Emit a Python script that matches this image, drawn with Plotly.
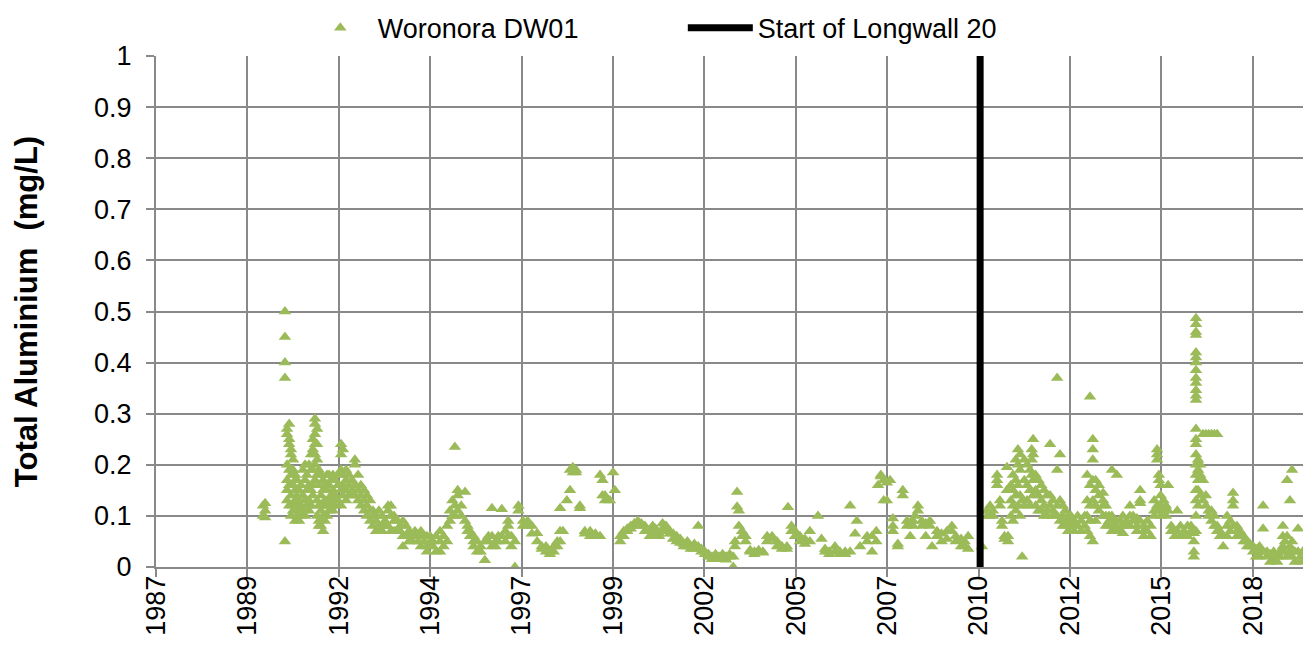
import plotly.graph_objects as go

# Woronora DW01 total aluminium
# each date (decimal year) carries the readings taken on that day (depth profile)
dates_89_95 = [1990.09, 1990.15, 1990.71, 1990.77, 1990.83, 1990.88, 1990.94, 1991.00, 1991.05,
               1991.11, 1991.16, 1991.22, 1991.28, 1991.33, 1991.39, 1991.45, 1991.50, 1991.56,
               1991.62, 1991.67, 1991.73, 1991.79, 1991.84, 1991.90, 1991.96, 1992.01, 1992.07,
               1992.13, 1992.21, 1992.30, 1992.35, 1992.44, 1992.52, 1992.61, 1992.69, 1992.78,
               1992.86, 1992.95, 1993.03, 1993.12, 1993.20, 1993.29, 1993.37, 1993.46, 1993.54,
               1993.63, 1993.71, 1993.80, 1993.88, 1993.97, 1994.05, 1994.14, 1994.22, 1994.31,
               1994.39, 1994.48, 1994.56, 1994.65, 1994.73, 1994.82, 1994.90, 1994.99]
al_89_95 = [[0.10, 0.12], [0.125, 0.11, 0.097], [0.50, 0.45, 0.40, 0.37, 0.05],
            [0.27, 0.26, 0.20, 0.17, 0.15, 0.13], [0.28, 0.25, 0.24, 0.19, 0.16, 0.12],
            [0.23, 0.22, 0.18, 0.14, 0.10], [0.21, 0.19, 0.16, 0.12, 0.11],
            [0.18, 0.17, 0.15, 0.13, 0.09], [0.17, 0.14, 0.12, 0.10], [0.15, 0.13, 0.11, 0.09],
            [0.16, 0.12, 0.10], [0.19, 0.14, 0.11], [0.20, 0.17, 0.13, 0.10], [0.18, 0.15, 0.12],
            [0.20, 0.16, 0.13, 0.11], [0.22, 0.19, 0.15, 0.12], [0.25, 0.23, 0.19, 0.16, 0.14],
            [0.29, 0.28, 0.26, 0.24, 0.22, 0.20, 0.17], [0.27, 0.24, 0.21, 0.18, 0.13, 0.10],
            [0.19, 0.16, 0.12, 0.09, 0.08], [0.18, 0.14, 0.11, 0.08], [0.17, 0.15, 0.12, 0.10, 0.07],
            [0.16, 0.13, 0.09], [0.18, 0.15, 0.12, 0.10], [0.18, 0.16, 0.13, 0.11], [0.17, 0.14, 0.12],
            [0.18, 0.15, 0.13, 0.11], [0.17, 0.14, 0.12], [0.18, 0.16, 0.13],
            [0.24, 0.22, 0.19, 0.15, 0.12], [0.23, 0.18, 0.16, 0.14], [0.19, 0.17, 0.15, 0.13],
            [0.18, 0.16, 0.14], [0.17, 0.15, 0.14], [0.21, 0.20, 0.16, 0.14], [0.18, 0.15, 0.13],
            [0.16, 0.14, 0.12], [0.15, 0.13, 0.11], [0.14, 0.12, 0.10], [0.13, 0.11, 0.09],
            [0.11, 0.10, 0.08], [0.10, 0.09, 0.07], [0.11, 0.08, 0.07], [0.10, 0.08, 0.07],
            [0.09, 0.08], [0.12, 0.11, 0.08], [0.12, 0.10, 0.07], [0.10, 0.09, 0.07], [0.09, 0.07],
            [0.08, 0.07], [0.09, 0.06, 0.04], [0.08, 0.06], [0.07, 0.06, 0.05], [0.06, 0.05],
            [0.07, 0.06], [0.06, 0.05], [0.07, 0.06, 0.04], [0.06, 0.05], [0.06, 0.04, 0.03],
            [0.06, 0.05], [0.05, 0.04], [0.06, 0.03]]

dates_95_01 = [1995.10, 1995.20, 1995.30, 1995.38, 1995.45, 1995.52, 1995.60, 1995.70, 1995.81,
               1995.88, 1995.95, 1996.05, 1996.15, 1996.25, 1996.37, 1996.47, 1996.57, 1996.67,
               1996.75, 1996.85, 1996.95, 1997.03, 1997.12, 1997.22, 1997.32, 1997.45, 1997.58,
               1997.70, 1997.85, 1997.98, 1998.10, 1998.21, 1998.32, 1998.42, 1998.50, 1998.58,
               1998.69, 1998.78, 1998.86, 1998.95, 1999.06, 1999.20, 1999.35, 1999.50, 1999.63,
               1999.70, 1999.77, 1999.91, 2000.00, 2000.05, 2000.20, 2000.30, 2000.40, 2000.50,
               2000.60, 2000.70, 2000.80, 2000.90]
al_95_01 = [[0.07, 0.05, 0.03], [0.06, 0.04], [0.08, 0.05], [0.11, 0.09], [0.13, 0.10],
            [0.235, 0.12, 0.10], [0.15, 0.14, 0.11], [0.12, 0.10], [0.147, 0.09], [0.08, 0.07],
            [0.07, 0.06], [0.06, 0.05, 0.04], [0.05, 0.03], [0.04, 0.03], [0.013, 0.05],
            [0.06, 0.05], [0.115, 0.06, 0.04], [0.05, 0.04], [0.06, 0.05], [0.113, 0.06],
            [0.07, 0.05], [0.09, 0.08, 0.06], [0.06, 0.04], [0.0, 0.05], [0.12, 0.11],
            [0.09, 0.08], [0.09, 0.08], [0.08, 0.065], [0.066, 0.05], [0.04, 0.035], [0.04, 0.03],
            [0.03, 0.025], [0.04, 0.03], [0.05, 0.04], [0.115, 0.07, 0.05], [0.07], [0.13],
            [0.19, 0.15], [0.195, 0.185], [0.185, 0.19], [0.12, 0.115], [0.07, 0.065],
            [0.07, 0.06], [0.065, 0.06], [0.18, 0.06], [0.17, 0.14], [0.14, 0.13], [0.13],
            [0.185], [0.15], [0.06, 0.05], [0.07, 0.06], [0.075, 0.07], [0.08, 0.075],
            [0.085, 0.08], [0.09, 0.085], [0.085, 0.08], [0.08, 0.07]]

dates_01_10 = [2001.04, 2001.12, 2001.20, 2001.30, 2001.40, 2001.50, 2001.60, 2001.70, 2001.80,
               2001.90, 2002.00, 2002.10, 2002.20, 2002.30, 2002.41, 2002.50, 2002.60, 2002.70,
               2002.80, 2002.90, 2003.00, 2003.10, 2003.20, 2003.30, 2003.40, 2003.45, 2003.51,
               2003.56, 2003.65, 2003.75, 2003.88, 2004.00, 2004.12, 2004.24, 2004.36, 2004.50,
               2004.64, 2004.78, 2004.92, 2004.95, 2005.05, 2005.15, 2005.29, 2005.43, 2005.57,
               2005.80, 2005.90, 2006.00, 2006.12, 2006.28, 2006.42, 2006.57, 2006.71, 2006.85,
               2006.90, 2006.99, 2007.19, 2007.33, 2007.45, 2007.50, 2007.58, 2007.66, 2007.75,
               2007.84, 2007.92, 2008.06, 2008.20, 2008.32, 2008.41, 2008.49, 2008.55, 2008.63,
               2008.74, 2008.85, 2008.97, 2009.03, 2009.17, 2009.30, 2009.45, 2009.59, 2009.70,
               2009.85, 2009.95, 2010.05, 2010.44]
al_01_10 = [[0.07, 0.06], [0.08, 0.07], [0.075, 0.065], [0.065, 0.06], [0.085, 0.075],
            [0.08, 0.07], [0.07, 0.065], [0.065, 0.055], [0.06, 0.05], [0.055, 0.047],
            [0.045, 0.04], [0.05, 0.04], [0.04, 0.035], [0.045, 0.035], [0.08, 0.04],
            [0.035, 0.03], [0.03, 0.025], [0.025, 0.02], [0.02, 0.015], [0.025, 0.02],
            [0.02, 0.015], [0.025, 0.02], [0.02, 0.014], [0.025, 0.02], [0.0, 0.02], [0.05, 0.04],
            [0.147, 0.118], [0.11, 0.08], [0.07, 0.06], [0.06, 0.05], [0.033, 0.03],
            [0.03, 0.025], [0.033, 0.03], [0.03, 0.028], [0.06, 0.05], [0.06, 0.055],
            [0.05, 0.04], [0.04, 0.035], [0.04, 0.035], [0.117], [0.08, 0.07], [0.07, 0.06],
            [0.06, 0.05], [0.055, 0.045], [0.07, 0.05], [0.10], [0.055], [0.035, 0.03],
            [0.03, 0.025], [0.04, 0.03], [0.03, 0.025], [0.03, 0.025], [0.12, 0.03], [0.065],
            [0.09], [0.04], [0.06, 0.05], [0.06, 0.03], [0.07, 0.05], [0.16], [0.18, 0.177],
            [0.17, 0.13], [0.165, 0.13], [0.17], [0.095, 0.08, 0.07], [0.045, 0.04],
            [0.15, 0.14], [0.09, 0.08], [0.085, 0.06], [0.09, 0.08], [0.10], [0.12, 0.11],
            [0.09, 0.08], [0.085, 0.06], [0.09, 0.08], [0.04], [0.07, 0.06], [0.065, 0.05],
            [0.07, 0.055], [0.08, 0.07], [0.06, 0.05], [0.055, 0.04], [0.05, 0.04],
            [0.06, 0.035], [0.04]]

dates_10_13 = [2010.59, 2010.67, 2010.75, 2010.87, 2010.95, 2011.01, 2011.08, 2011.15, 2011.18,
               2011.26, 2011.32, 2011.40, 2011.46, 2011.52, 2011.58, 2011.64, 2011.72, 2011.80,
               2011.85, 2011.89, 2011.96, 2012.04, 2012.12, 2012.20, 2012.28, 2012.37, 2012.45,
               2012.57, 2012.65, 2012.73, 2012.80, 2012.88, 2012.96, 2013.05, 2013.15, 2013.25,
               2013.35]
al_10_13 = [[0.11, 0.10], [0.12, 0.10], [0.11, 0.10], [0.18, 0.17, 0.16], [0.13, 0.12],
            [0.09, 0.08], [0.06, 0.055], [0.195, 0.15], [0.06, 0.05], [0.16, 0.13, 0.10],
            [0.18, 0.15, 0.12, 0.09], [0.21, 0.17, 0.14, 0.11], [0.23, 0.20, 0.16, 0.12],
            [0.22, 0.19, 0.14, 0.10], [0.02, 0.13], [0.21, 0.17, 0.12], [0.20, 0.16, 0.13],
            [0.19, 0.15, 0.12], [0.23, 0.21, 0.18], [0.25, 0.22, 0.17, 0.14], [0.18, 0.15, 0.12],
            [0.17, 0.14, 0.11], [0.16, 0.13, 0.11], [0.15, 0.12, 0.10], [0.14, 0.11, 0.10],
            [0.24, 0.14, 0.12], [0.13, 0.11, 0.10], [0.37, 0.19, 0.12, 0.10], [0.22, 0.13, 0.09],
            [0.12, 0.10, 0.08], [0.11, 0.09, 0.08], [0.10, 0.09, 0.07], [0.10, 0.08],
            [0.09, 0.08, 0.07], [0.10, 0.08], [0.09, 0.07], [0.10, 0.08]]

dates_13_19 = [2013.42, 2013.50, 2013.58, 2013.66, 2013.75, 2013.87, 2013.95, 2014.04, 2014.12,
               2014.20, 2014.26, 2014.35, 2014.43, 2014.53, 2014.63, 2014.72, 2014.83, 2014.92,
               2015.02, 2015.12, 2015.22, 2015.32, 2015.40, 2015.45, 2015.50, 2015.58, 2015.65,
               2015.71, 2015.80, 2015.90, 2015.97, 2016.06, 2016.16, 2016.26, 2016.36, 2016.44,
               2016.50, 2016.56, 2016.62, 2016.70, 2016.78, 2016.86, 2016.94, 2017.02, 2017.10,
               2017.18, 2017.27, 2017.38, 2017.47, 2017.55, 2017.66, 2017.75, 2017.85, 2017.95,
               2018.03, 2018.12, 2018.20, 2018.30, 2018.40, 2018.51, 2018.60, 2018.70, 2018.80,
               2018.88, 2018.96, 2019.02, 2019.08, 2019.16, 2019.22, 2019.30, 2019.39, 2019.46,
               2019.52]
al_13_19 = [[0.18, 0.13, 0.10, 0.07], [0.333, 0.16, 0.12, 0.09, 0.06],
            [0.25, 0.23, 0.21, 0.17, 0.13, 0.05], [0.17, 0.15, 0.12, 0.09], [0.16, 0.14, 0.11],
            [0.145, 0.13, 0.12, 0.10], [0.12, 0.10, 0.08], [0.10, 0.09, 0.08], [0.19, 0.10, 0.07],
            [0.09, 0.08], [0.18, 0.08, 0.07], [0.09, 0.07], [0.10, 0.08, 0.066], [0.09, 0.08],
            [0.12, 0.10, 0.08], [0.10, 0.09], [0.095, 0.08, 0.07], [0.15, 0.13, 0.125, 0.09],
            [0.08, 0.07, 0.06], [0.09, 0.07], [0.08, 0.06], [0.13, 0.11, 0.10],
            [0.23, 0.22, 0.21, 0.12], [0.18, 0.17, 0.11], [0.16, 0.14, 0.12, 0.10], [0.13, 0.11],
            [0.12, 0.10], [0.16, 0.11], [0.08, 0.07], [0.07, 0.06], [0.11, 0.07], [0.08, 0.06],
            [0.07, 0.06], [0.08, 0.06], [0.08, 0.07], [0.066, 0.05, 0.03, 0.02],
            [0.487, 0.475, 0.46, 0.454, 0.42, 0.41, 0.40, 0.385, 0.37, 0.36, 0.346, 0.335, 0.327,
             0.27, 0.25, 0.24, 0.22, 0.20, 0.18, 0.15, 0.13, 0.10, 0.07],
            [0.21, 0.19, 0.17, 0.15, 0.12], [0.20, 0.18, 0.14], [0.26, 0.17, 0.13],
            [0.26, 0.14, 0.12], [0.26, 0.11, 0.10], [0.26, 0.11, 0.09], [0.26, 0.10, 0.08],
            [0.26, 0.08, 0.07], [0.07, 0.06], [0.06, 0.04], [0.10, 0.08, 0.06], [0.09, 0.07],
            [0.145, 0.13, 0.12, 0.08], [0.08, 0.07, 0.06], [0.07, 0.06], [0.06, 0.05],
            [0.05, 0.04], [0.045, 0.04], [0.04, 0.03], [0.035, 0.02], [0.04, 0.03, 0.02],
            [0.12, 0.075, 0.03], [0.03, 0.02], [0.025, 0.01], [0.03, 0.015], [0.02, 0.01],
            [0.03, 0.02], [0.08, 0.06, 0.04, 0.03], [0.05, 0.03], [0.17, 0.06, 0.02],
            [0.13, 0.04, 0.03], [0.19, 0.05, 0.02], [0.03, 0.01], [0.075, 0.03], [0.02, 0.01],
            [0.03, 0.02]]

longwall_start = 2010.39   # start of Longwall 20

# Excel-style date axis: gridline every ~945 days starting late Jan 1987
tick_start = 1987.06
tick_step = 2.5873
tick_labels = ['1987', '1989', '1992', '1994', '1997', '1999', '2002',
               '2005', '2007', '2010', '2012', '2015', '2018']
x_range = [1987.06, 2019.53]

x, y = [], []
for dates, readings in [(dates_89_95, al_89_95), (dates_95_01, al_95_01), (dates_01_10, al_01_10),
                        (dates_10_13, al_10_13), (dates_13_19, al_13_19)]:
    for d, vals in zip(dates, readings):
        x += [d] * len(vals)
        y += vals

font = 'Liberation Sans, Arial, sans-serif'
grid = '#898989'

fig = go.Figure()
fig.add_trace(go.Scatter(x=x, y=y, mode='markers', name='Woronora DW01',
                         marker=dict(symbol='triangle-up', size=11, color='#9bbb59', line_width=0)))
fig.add_trace(go.Scatter(x=[longwall_start, longwall_start], y=[0, 1], mode='lines',
                         name='Start of Longwall 20', line=dict(color='black', width=7)))

# page body has an 8px margin, so the figure is sized to fit inside the window
fig.update_layout(
    width=1304, height=654,
    margin=dict(l=148, r=9, t=48, b=95),
    paper_bgcolor='white', plot_bgcolor='white',
    font=dict(family=font, size=27, color='black'),
    showlegend=True,
    legend=dict(orientation='h', x=0.128, xanchor='left', xref='paper',
                y=0.969, yanchor='middle', yref='container',
                font=dict(size=27), entrywidth=300, itemwidth=65, bgcolor='rgba(0,0,0,0)'),
)
fig.update_xaxes(
    range=x_range, tickmode='array',
    tickvals=[tick_start + i * tick_step for i in range(len(tick_labels))],
    ticktext=tick_labels, tickangle=-90, ticklabelstandoff=-12,
    showgrid=True, gridcolor=grid, gridwidth=2,
    showline=True, linecolor=grid, linewidth=2,
    ticks='outside', ticklen=8, tickwidth=2, tickcolor=grid,
    zeroline=False, automargin=False,
)
fig.update_yaxes(
    range=[0, 1], dtick=0.1, tick0=0, ticklabelstandoff=9,
    showgrid=True, gridcolor=grid, gridwidth=2,
    showline=True, linecolor=grid, linewidth=2,
    ticks='outside', ticklen=8, tickwidth=2, tickcolor=grid,
    zeroline=False, automargin=False,
    title=dict(text='Total Aluminium\u00a0 (mg/L)', standoff=47,
               font=dict(size=31, weight='bold')),
)

fig.write_html('out.html')
